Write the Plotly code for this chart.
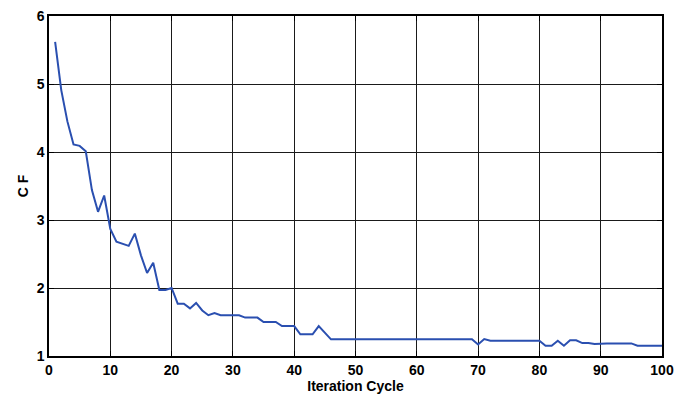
import plotly.graph_objects as go

iterations = list(range(1, 101))
cf_values = [
    5.62, 4.91, 4.45, 4.11, 4.09, 4.01, 3.44, 3.12, 3.36, 2.87,
    2.68, 2.65, 2.62, 2.80, 2.48, 2.22, 2.37, 1.97, 1.97, 2.00,
    1.77, 1.77, 1.70, 1.78, 1.67, 1.60, 1.63, 1.60, 1.60, 1.60,
    1.60, 1.565, 1.565, 1.565, 1.50, 1.50, 1.50, 1.44, 1.44, 1.44,
    1.32, 1.32, 1.32, 1.44, 1.35, 1.245, 1.245, 1.245, 1.245, 1.245,
    1.245, 1.245, 1.245, 1.245, 1.245, 1.245, 1.245, 1.245, 1.245, 1.245,
    1.245, 1.245, 1.245, 1.245, 1.245, 1.245, 1.245, 1.245, 1.245, 1.17,
    1.25, 1.225, 1.225, 1.225, 1.225, 1.225, 1.225, 1.225, 1.225, 1.225,
    1.15, 1.15, 1.225, 1.15, 1.23, 1.23, 1.19, 1.19, 1.175, 1.185,
    1.185, 1.185, 1.185, 1.185, 1.185, 1.15, 1.15, 1.15, 1.15, 1.15,
]
x_ticks = [0, 10, 20, 30, 40, 50, 60, 70, 80, 90, 100]
y_ticks = [1, 2, 3, 4, 5, 6]

FONT = "Liberation Sans"

fig = go.Figure()
fig.add_trace(go.Scatter(x=iterations, y=cf_values, mode="lines",
                         line=dict(color="#2a4fb0", width=2), showlegend=False))

axis_common = dict(
    showline=True, linecolor="black", linewidth=1.5, mirror="ticks",
    ticks="inside", ticklen=5, tickcolor="black", automargin=False,
    ticklabeloverflow="allow",
    showgrid=True, gridcolor="#1a1a1a", gridwidth=1, zeroline=False,
    tickfont=dict(family=FONT, size=14, color="black", weight=700),
)
fig.update_xaxes(range=[0, 100], tickvals=x_ticks, **axis_common,
                 title=dict(text="Iteration Cycle", standoff=1,
                            font=dict(family=FONT, size=14, color="black", weight=700)))
fig.update_yaxes(range=[1, 6], tickvals=y_ticks, **axis_common,
                 title=dict(text="C F", standoff=5,
                            font=dict(family=FONT, size=14, color="black", weight=700)))
fig.update_layout(
    width=678, height=391,
    margin=dict(l=41, r=24, t=8, b=43),
    paper_bgcolor="white", plot_bgcolor="white",
)
fig.write_html("out.html")
